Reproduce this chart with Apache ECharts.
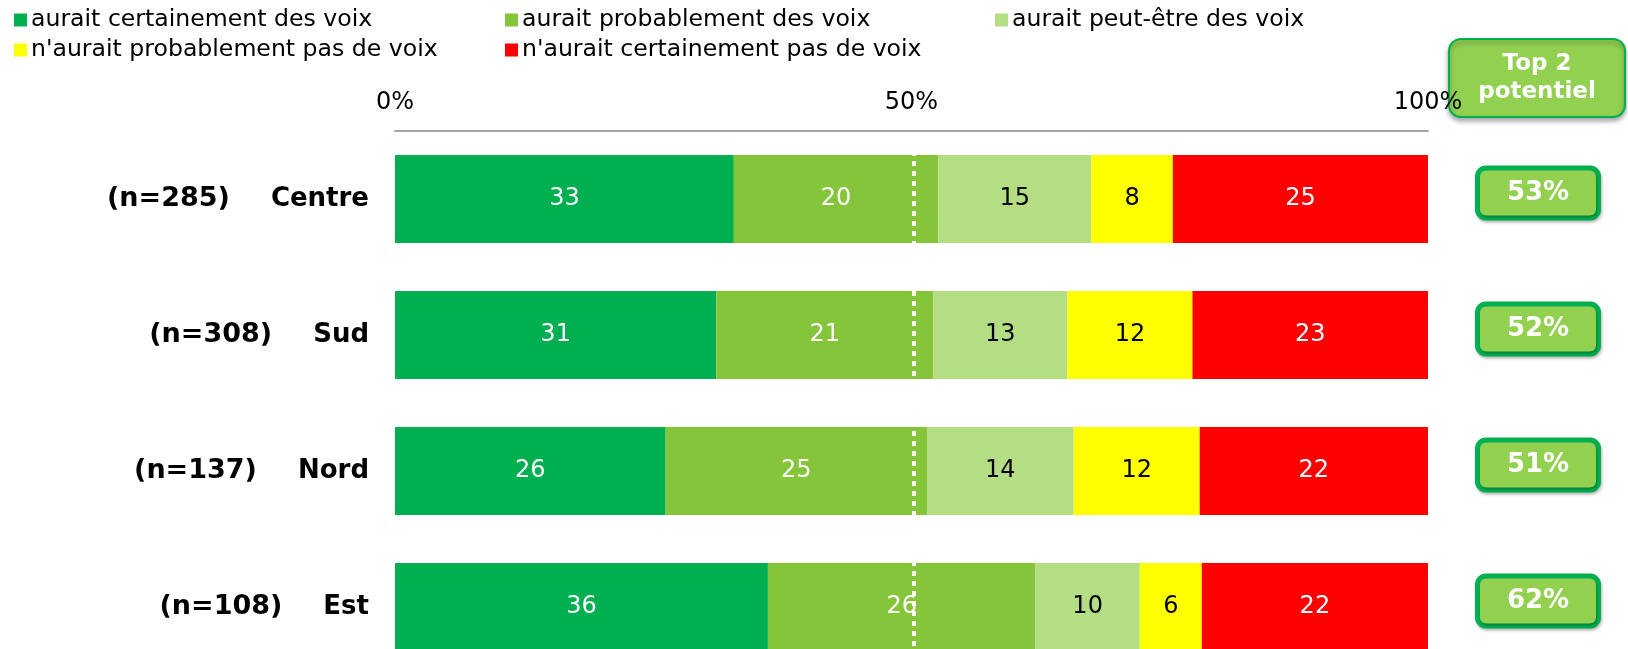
<!DOCTYPE html>
<html>
<head>
<meta charset="utf-8">
<script src="https://cdn.jsdelivr.net/npm/echarts@6/dist/echarts.min.js"></script>
<style>
html, body { margin: 0; padding: 0; background: #fff; }
#main { width: 1628px; height: 649px; }
</style>
</head>
<body>
<div id="main"></div>
<script>
// regions, top to bottom
var categories = ['Centre', 'Sud', 'Nord', 'Est'];
var sampleSizes = [285, 308, 137, 108];

// segment widths (labels show them rounded)
var certainement = [32.8, 31.1, 26.2, 36.1];
var probablement = [19.8, 21.0, 25.3, 25.9];
var peutEtre = [14.8, 13.0, 14.2, 10.1];
var probPas = [7.9, 12.1, 12.2, 6.0];
var certPas = [24.7, 22.8, 22.1, 21.9];

// "Top 2 potentiel" column
var top2 = [53, 52, 51, 62];

var seriesNames = [
    'aurait certainement des voix',
    'aurait probablement des voix',
    'aurait peut-être des voix',
    "n'aurait probablement pas de voix",
    "n'aurait certainement pas de voix"
];
var seriesData = [certainement, probablement, peutEtre, probPas, certPas];
var colors = ['#00B050', '#84C53A', '#B3DE83', '#FFFF00', '#FF0000'];
var labelColors = ['#fff', '#fff', '#000', '#000', '#fff'];

var font = 'DejaVu Sans';

var myChart = echarts.init(document.getElementById('main'));

// legend laid out like the original: 3 columns on row 1, 2 on row 2
var legendPos = [[9, 3], [500, 3], [990, 3], [9, 33], [500, 33]];
var legends = [];
for (var i = 0; i < seriesNames.length; i++) {
    legends.push({
        data: [seriesNames[i]],
        left: legendPos[i][0],
        top: legendPos[i][1],
        icon: 'rect',
        itemWidth: 13,
        itemHeight: 13,
        selectedMode: false,
        textStyle: { fontFamily: font, fontSize: 23.6, color: '#000', padding: [0, 0, 0, -1] }
    });
}

var series = [];
for (var i = 0; i < seriesNames.length; i++) {
    series.push({
        name: seriesNames[i],
        type: 'bar',
        stack: 'total',
        barWidth: 88,
        data: seriesData[i],
        itemStyle: { color: colors[i] },
        label: {
            show: true,
            position: 'inside',
            fontFamily: font,
            fontSize: 24,
            color: labelColors[i],
            formatter: function (p) { return Math.round(p.value); }
        },
        emphasis: { disabled: true }
    });
}
// white dotted line at 50%
series[4].markLine = {
    silent: true,
    symbol: 'none',
    label: { show: false },
    lineStyle: { color: '#fff', type: [5, 5], width: 4 },
    data: [{ xAxis: 50.2 }]
};

option = {
    animation: false,
    legend: legends,
    grid: { left: 395, right: 200, top: 131, height: 544, outerBoundsMode: 'none' },
    xAxis: {
        type: 'value',
        position: 'top',
        z: 10,
        min: 0,
        max: 100,
        interval: 50,
        axisLine: { show: true, lineStyle: { color: '#A6A6A6', width: 2 } },
        axisTick: { show: false },
        splitLine: { show: false },
        axisLabel: {
            margin: 16,
            fontFamily: font,
            fontSize: 24,
            color: '#000',
            formatter: '{value}%'
        }
    },
    yAxis: [{
        type: 'category',
        data: categories,
        inverse: true,
        axisLine: { show: false },
        axisTick: { show: false },
        axisLabel: {
            margin: 26,
            formatter: function (v, i) {
                return '{n|(n=' + sampleSizes[i] + ')}{c|' + v + '}';
            },
            rich: {
                n: { fontFamily: font, fontWeight: 'bold', fontSize: 27, color: '#000' },
                c: { fontFamily: font, fontWeight: 'bold', fontSize: 26, color: '#000', padding: [0, 0, 0, 41] }
            }
        }
    }, {
        type: 'category',
        data: categories,
        inverse: true,
        position: 'right',
        axisLine: { show: false },
        axisTick: { show: false },
        axisLabel: {
            margin: 52,
            align: 'left',
            padding: [0, 0, 12, 0],
            formatter: function (v, i) {
                return '{box|' + top2[i] + '%}';
            },
            rich: {
                box: {
                    fontFamily: font,
                    fontWeight: 'bold',
                    fontSize: 26,
                    color: '#fff',
                    align: 'center',
                    width: 116,
                    height: 45,
                    backgroundColor: '#92D050',
                    borderColor: '#00B050',
                    borderWidth: 5,
                    borderRadius: 6,
                    shadowColor: 'rgba(0,0,0,0.3)',
                    shadowBlur: 3,
                    shadowOffsetX: 1,
                    shadowOffsetY: 2
                }
            }
        }
    }],
    graphic: [{
        type: 'group',
        z: 100,
        children: [{
            type: 'rect',
            shape: { x: 1449, y: 39, width: 176, height: 78, r: 12 },
            style: {
                fill: '#92D050',
                stroke: '#00B050',
                lineWidth: 2,
                shadowColor: 'rgba(0,0,0,0.35)',
                shadowBlur: 5,
                shadowOffsetY: 3
            }
        }, {
            type: 'text',
            x: 1537,
            y: 78,
            style: {
                text: 'Top 2\npotentiel',
                fill: '#fff',
                font: 'bold 23px "DejaVu Sans"',
                align: 'center',
                verticalAlign: 'middle',
                lineHeight: 28
            }
        }]
    }],
    series: series
};

myChart.setOption(option);
</script>
</body>
</html>
